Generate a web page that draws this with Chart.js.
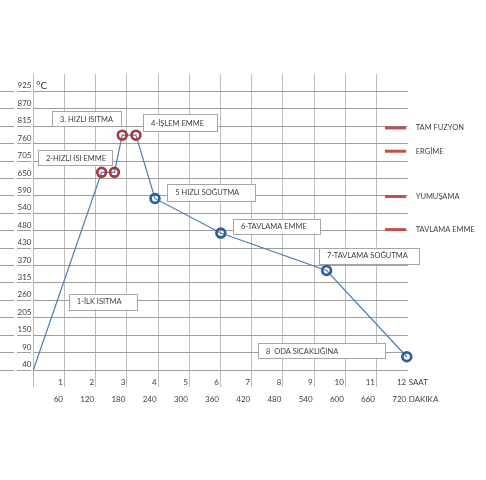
<!DOCTYPE html>
<html>
<head>
<meta charset="utf-8">
<script src="https://cdn.jsdelivr.net/npm/chart.js@4/dist/chart.umd.min.js"></script>
<style>
  html, body { margin: 0; background: #fff; }
</style>
</head>
<body>
<canvas id="chart" width="486" height="480"></canvas>
<script>
// process curve: time in hours, temperature in °C
const hours = [0, 2.19, 2.6, 2.85, 3.29, 3.9, 6.01, 9.4, 11.97];
const temps = [40, 668, 668, 786, 786, 585, 475, 356, 82];

const tempTicks = ['40', '90', '150', '205', '260', '315', '370', '430', '480',
                   '540', '590', '650', '705', '760', '815', '870', '925'];
const hourTicks = ['1', '2', '3', '4', '5', '6', '7', '8', '9', '10', '11', '12'];
const minuteTicks = ['60', '120', '180', '240', '300', '360', '420', '480', '540', '600', '660', '720'];

const stageNames = ['1-İLK ISITMA', '2-HIZLI ISI EMME', '3. HIZLI ISITMA', '4-İŞLEM EMME',
                    '5 HIZLI SOĞUTMA', '6-TAVLAMA EMME', '7-TAVLAMA SOĞUTMA', '8  ODA SICAKLIĞINA'];

const levelNames = ['TAM FUZYON', 'ERGİME', 'YUMUŞAMA', 'TAVLAMA EMME'];
const levelTemps = [809, 735, 591, 486];

// layout of the text boxes, in axis units (hours / °C)
const stageBoxes = [
    { x0: 1.14, x1: 3.33, top: 283, bottom: 233 },
    { x0: 0.15, x1: 2.52, top: 738, bottom: 691 },
    { x0: 0.60, x1: 2.81, top: 862, bottom: 814 },
    { x0: 3.52, x1: 5.89, top: 852, bottom: 799 },
    { x0: 4.29, x1: 7.11, top: 631, bottom: 577 },
    { x0: 6.40, x1: 9.19, top: 520, bottom: 473 },
    { x0: 9.16, x1: 12.36, top: 429, bottom: 378 },
    { x0: 7.20, x1: 11.27, top: 125, bottom: 78 },
];

const Y_MIN = 40;
const Y_STEP = 55.3125;
const Y_MAX = Y_MIN + 17 * Y_STEP;
const LEVEL_X0 = 11.27, LEVEL_X1 = 11.95;
const FONT = 'Lato, "Open Sans", sans-serif';
const TEXT = '#404040';

const overlay = {
    id: 'overlay',
    beforeDatasetsDraw(chart) {
        const { ctx, scales: { x, y } } = chart;
        ctx.save();
        ctx.font = `7.5px ${FONT}`;
        ctx.textBaseline = 'middle';
        ctx.textAlign = 'left';
        stageBoxes.forEach((b, i) => {
            const l = x.getPixelForValue(b.x0), r = x.getPixelForValue(b.x1);
            const t = y.getPixelForValue(b.top), bt = y.getPixelForValue(b.bottom);
            ctx.fillStyle = '#fff';
            ctx.fillRect(l, t, r - l, bt - t);
            ctx.strokeStyle = '#a6a6a6';
            ctx.lineWidth = 1;
            ctx.strokeRect(Math.round(l) + 0.5, Math.round(t) + 0.5, Math.round(r - l), Math.round(bt - t));
            ctx.fillStyle = TEXT;
            ctx.fillText(stageNames[i], l + 8, (t + bt) / 2 + 0.5);
        });
        ctx.restore();
    },
    afterDraw(chart) {
        const { ctx, scales: { x, y } } = chart;
        ctx.save();
        ctx.fillStyle = TEXT;
        ctx.textBaseline = 'middle';
        ctx.textAlign = 'left';

        ctx.font = `10px ${FONT}`;
        ctx.fillText('°C', x.left + 3, y.getPixelForValue(925) - 6);

        ctx.font = `8px ${FONT}`;
        const xr = x.getPixelForValue(12);
        ctx.fillText('SAAT', xr + 1, x.top + 12);
        ctx.fillText('DAKIKA', xr + 1, x.top + 29);

        ctx.font = `7.5px ${FONT}`;
        levelNames.forEach((name, i) => {
            ctx.fillText(name, xr + 8, y.getPixelForValue(levelTemps[i]));
        });
        ctx.restore();
    }
};

const levelSets = levelTemps.map(t => ({
    data: [{ x: LEVEL_X0, y: t }, { x: LEVEL_X1, y: t }],
    borderColor: '#c0504d',
    borderWidth: 3,
    pointRadius: 0,
    clip: false,
}));

new Chart(document.getElementById('chart'), {
    type: 'line',
    data: {
        datasets: [
            {
                data: hours.map((h, i) => ({ x: h, y: temps[i] })),
                borderColor: '#4a7ebb',
                borderWidth: 1.2,
                tension: 0,
                clip: false,
                pointRadius: c => (c.dataIndex === 0 ? 0 : 4.4),
                pointBorderWidth: 2.7,
                pointBackgroundColor: 'rgba(255,255,255,0)',
                pointBorderColor: c => (c.dataIndex <= 4 ? '#a8383b' : '#2f5f98'),
            },
            ...levelSets,
        ]
    },
    options: {
        responsive: false,
        animation: false,
        layout: { padding: { left: 0, right: 78.3, top: 74, bottom: 70 } },
        plugins: { legend: { display: false }, tooltip: { enabled: false } },
        scales: {
            x: {
                type: 'linear',
                min: 0,
                max: 12,
                afterFit: s => { s.height = 40; },
                border: { display: false },
                grid: {
                    color: c => (c.tick && c.tick.value === 12 ? 'rgba(0,0,0,0)' : '#bdbdbd'),
                    tickLength: 17,
                    lineWidth: 1,
                },
                ticks: {
                    stepSize: 1,
                    autoSkip: false,
                    maxRotation: 0,
                    align: 'end',
                    labelOffset: -1.5,
                    padding: -13.5,
                    color: TEXT,
                    font: { family: FONT, size: 8, lineHeight: 17 / 8 },
                    callback: (v, i) => (i === 0 ? '' : [hourTicks[i - 1], minuteTicks[i - 1]]),
                },
            },
            y: {
                type: 'linear',
                min: Y_MIN,
                max: Y_MAX,
                afterFit: s => { s.width = 33.3; },
                border: { display: false },
                grid: {
                    color: c => (c.index === 17 ? 'rgba(0,0,0,0)' : '#9e9e9e'),
                    tickLength: 33.3,
                    lineWidth: 1,
                    dash: [14, 3],
                    borderDash: [14, 3],
                    tickBorderDash: [14, 3],
                },
                ticks: {
                    stepSize: Y_STEP,
                    autoSkip: false,
                    padding: -31.5,
                    labelOffset: -5.5,
                    color: TEXT,
                    font: { family: FONT, size: 8 },
                    callback: (v, i) => tempTicks[i] || '',
                },
            },
        },
    },
    plugins: [overlay],
});
</script>
</body>
</html>
